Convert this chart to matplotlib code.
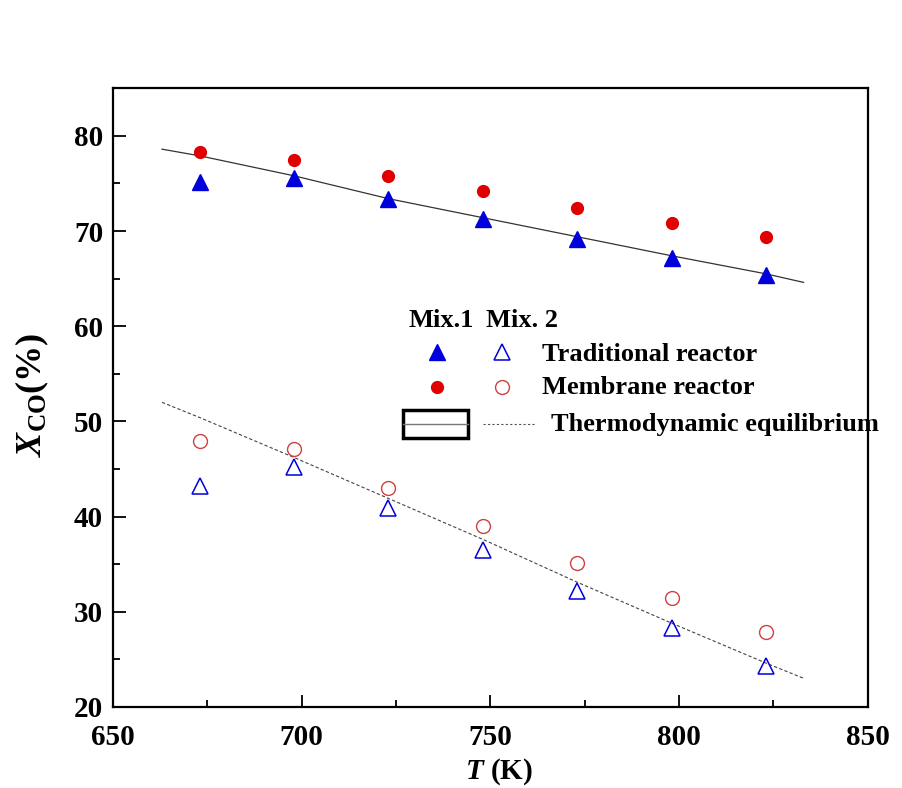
import matplotlib
matplotlib.use("Agg")
import matplotlib.pyplot as plt
from matplotlib.patches import Rectangle
from matplotlib.lines import Line2D

plt.rcParams['font.family'] = ['Liberation Serif', 'DejaVu Serif']
plt.rcParams['font.weight'] = 'bold'
plt.rcParams['mathtext.fontset'] = 'custom'
plt.rcParams['mathtext.it'] = 'Liberation Serif:italic:bold'
plt.rcParams['mathtext.rm'] = 'Liberation Serif:bold'
plt.rcParams['mathtext.bf'] = 'Liberation Serif:bold'

# Data
T = [673, 698, 723, 748, 773, 798, 823]
trad_mix1 = [75.1, 75.6, 73.4, 71.3, 69.2, 67.2, 65.4]
memb_mix1 = [78.3, 77.5, 75.8, 74.2, 72.4, 70.8, 69.4]
trad_mix2 = [43.2, 45.2, 40.9, 36.5, 32.2, 28.3, 24.3]
memb_mix2 = [47.9, 47.1, 43.0, 39.0, 35.1, 31.4, 27.9]

T_eq = [663, 673, 698, 723, 748, 773, 798, 823, 833]
eq_mix1 = [78.6, 77.9, 75.8, 73.4, 71.4, 69.4, 67.4, 65.5, 64.6]
eq_mix2 = [52.0, 50.4, 46.2, 41.9, 37.6, 33.1, 28.8, 24.6, 23.0]

fig = plt.figure(figsize=(9.03, 7.88), dpi=100)
ax = fig.add_axes([0.125, 0.103, 0.836, 0.785])

blue = '#0000dd'
red = '#e00000'

ax.plot(T_eq, eq_mix1, '-', color='#333333', lw=0.9)
ax.plot(T_eq, eq_mix2, '--', color='#444444', lw=0.8, dashes=(3, 2))
ax.plot(T, trad_mix1, '^', color=blue, ms=11, mec=blue, ls='none')
ax.plot(T, memb_mix1, 'o', color=red, ms=8.5, mec=red, ls='none')
ax.plot(T, trad_mix2, '^', mfc='none', mec=blue, mew=1.1, ms=11, ls='none')
ax.plot(T, memb_mix2, 'o', mfc='none', mec='#d04040', mew=1.0, ms=10, ls='none')

ax.set_xlim(650, 850)
ax.set_ylim(20, 85)
ax.set_xticks([650, 700, 750, 800, 850])
ax.set_xticks([675, 725, 775, 825], minor=True)
ax.set_yticks([20, 30, 40, 50, 60, 70, 80])
ax.set_yticks([25, 35, 45, 55, 65, 75], minor=True)
ax.tick_params(axis='both', which='major', direction='in', length=9, width=1.3,
               labelsize=21, top=False, right=False)
ax.tick_params(axis='both', which='minor', direction='in', length=5, width=1.3,
               top=False, right=False)
ax.tick_params(axis='x', which='major', pad=12)
ax.tick_params(axis='y', which='major', pad=7)
for s in ax.spines.values():
    s.set_linewidth(1.6)

ax.set_xlabel(r'$T$ (K)', fontsize=21, fontweight='bold')
ax.set_ylabel(r'$X_{\mathrm{CO}}$(%)', fontsize=26, fontweight='bold')
ax.xaxis.set_label_coords(0.511, -0.080)
ax.yaxis.set_label_coords(-0.082, 0.504)

# Custom legend
tr = ax.transAxes
fs = 19
ax.text(0.391, 0.625, 'Mix.1', transform=tr, fontsize=fs, va='center', ha='left')
ax.text(0.494, 0.625, 'Mix. 2', transform=tr, fontsize=fs, va='center', ha='left')
ax.add_line(Line2D([0.429], [0.574], transform=tr, marker='^', color=blue, ms=11, ls='none'))
ax.add_line(Line2D([0.515], [0.574], transform=tr, marker='^', mfc='none', mec=blue, mew=1.1, ms=11, ls='none'))
ax.text(0.568, 0.570, 'Traditional reactor', transform=tr, fontsize=fs, va='center', ha='left')
ax.add_line(Line2D([0.429], [0.517], transform=tr, marker='o', color=red, ms=8.5, ls='none'))
ax.add_line(Line2D([0.515], [0.517], transform=tr, marker='o', mfc='none', mec='#d04040', mew=1.0, ms=10, ls='none'))
ax.text(0.568, 0.517, 'Membrane reactor', transform=tr, fontsize=fs, va='center', ha='left')
ax.add_patch(Rectangle((0.384, 0.435), 0.086, 0.045, transform=tr, fill=False,
                       ec='black', lw=2.5))
ax.add_line(Line2D([0.384, 0.470], [0.457, 0.457], transform=tr, color='#777777', lw=1.0))
ax.add_line(Line2D([0.490, 0.559], [0.457, 0.457], transform=tr, color='#555555', lw=0.8,
                   ls='--', dashes=(2, 2)))
ax.text(0.580, 0.457, 'Thermodynamic equilibrium', transform=tr, fontsize=fs,
        va='center', ha='left', clip_on=False)

fig.savefig('out.png', dpi=100)
